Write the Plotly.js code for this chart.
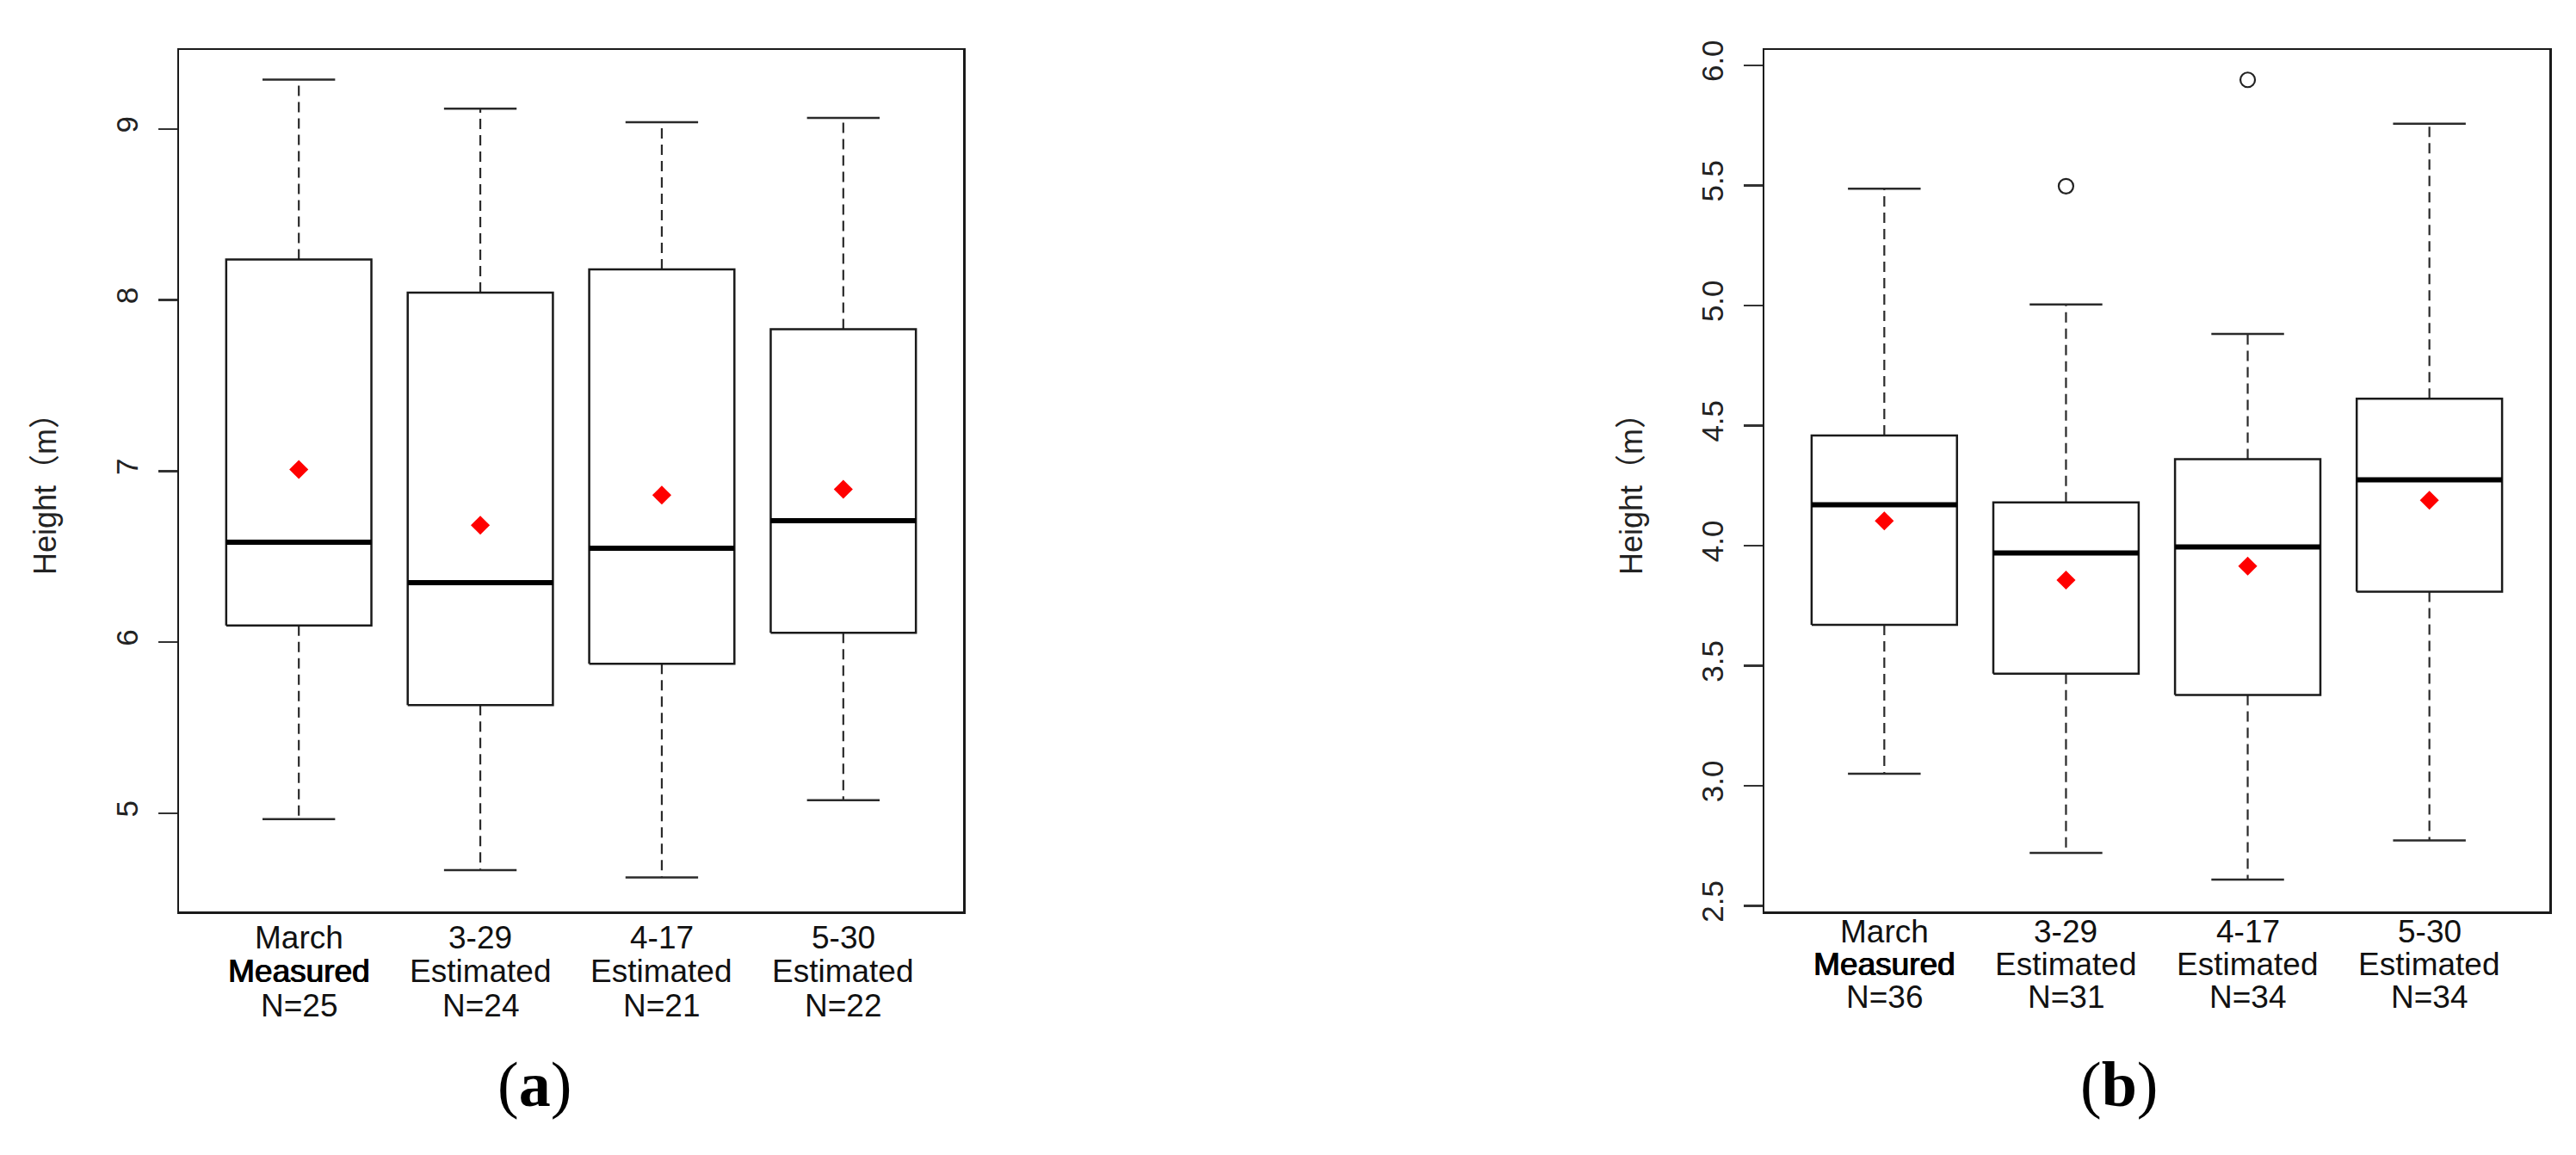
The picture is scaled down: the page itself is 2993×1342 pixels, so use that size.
<!DOCTYPE html>
<html>
<head>
<meta charset="utf-8">
<script src="https://cdn.plot.ly/plotly-3.0.1.min.js"></script>
<style>html,body{margin:0;padding:0;background:#fff;}#chart{width:2993px;height:1342px;}</style>
</head>
<body>
<div id="chart"></div>
<script>
// ---- Data ----
var groupLine1 = ['March', '3-29', '4-17', '5-30'];
var groupLine2 = ['Measured', 'Estimated', 'Estimated', 'Estimated'];
var countsA = ['N=25', 'N=24', 'N=21', 'N=22'];
var countsB = ['N=36', 'N=31', 'N=34', 'N=34'];

// Panel (a)
var lowerA  = [4.966, 4.668, 4.625, 5.077];
var q1A     = [6.098, 5.633, 5.874, 6.055];
var medianA = [6.585, 6.348, 6.550, 6.710];
var q3A     = [8.238, 8.044, 8.180, 7.830];
var upperA  = [9.290, 9.120, 9.040, 9.065];
var meanA   = [7.010, 6.684, 6.860, 6.894];
var outXA = [];
var outYA = [];

// Panel (b)
var lowerB  = [3.050, 2.721, 2.610, 2.773];
var q1B     = [3.670, 3.467, 3.378, 3.808];
var medianB = [4.170, 3.970, 3.995, 4.274];
var q3B     = [4.459, 4.180, 4.360, 4.612];
var upperB  = [5.487, 5.005, 4.882, 5.757];
var meanB   = [4.103, 3.857, 3.915, 4.189];
var outXB = [2, 3];
var outYB = [5.497, 5.940];

var yTicksA = [5, 6, 7, 8, 9];
var yTicksB = [2.5, 3.0, 3.5, 4.0, 4.5, 5.0, 5.5, 6.0];

// ---- Style ----
var W = 2993, H = 1342;
var halfBox = 0.4, halfCap = 0.2;
var lineCol = '#1a1a1a';
var sansFont = 'Liberation Sans, Arial, Noto Sans CJK SC, sans-serif';

function panelTraces(xa, ya, lower, q1, med, q3, upper, mean, outX, outY) {
  var bx = [], by = [], mx = [], my = [], wx = [], wy = [], cx = [], cy = [];
  for (var i = 0; i < q1.length; i++) {
    var c = i + 1;
    bx.push(c - halfBox, c + halfBox, c + halfBox, c - halfBox, c - halfBox, null);
    by.push(q1[i], q1[i], q3[i], q3[i], q1[i], null);
    mx.push(c - halfBox, c + halfBox, null);
    my.push(med[i], med[i], null);
    wx.push(c, c, null, c, c, null);
    wy.push(q3[i], upper[i], null, q1[i], lower[i], null);
    cx.push(c - halfCap, c + halfCap, null, c - halfCap, c + halfCap, null);
    cy.push(upper[i], upper[i], null, lower[i], lower[i], null);
  }
  var xs = [1, 2, 3, 4];
  return [
    {x: wx, y: wy, xaxis: xa, yaxis: ya, mode: 'lines', type: 'scatter',
     line: {color: '#2a2a2a', width: 2.2, dash: '12px,7px'}, hoverinfo: 'skip'},
    {x: cx, y: cy, xaxis: xa, yaxis: ya, mode: 'lines', type: 'scatter',
     line: {color: '#2a2a2a', width: 2.5}, hoverinfo: 'skip'},
    {x: bx, y: by, xaxis: xa, yaxis: ya, mode: 'lines', type: 'scatter',
     line: {color: lineCol, width: 2.5}, hoverinfo: 'skip'},
    {x: mx, y: my, xaxis: xa, yaxis: ya, mode: 'lines', type: 'scatter',
     line: {color: '#000', width: 6}, hoverinfo: 'skip'},
    {x: xs, y: mean, xaxis: xa, yaxis: ya, mode: 'markers', type: 'scatter',
     marker: {symbol: 'diamond', size: 17, color: '#ff0000', line: {width: 0}}},
    {x: outX, y: outY, xaxis: xa, yaxis: ya, mode: 'markers', type: 'scatter',
     marker: {symbol: 'circle-open', size: 17, color: '#222', line: {width: 2.2, color: '#222'}}}
  ];
}

var data = panelTraces('x', 'y', lowerA, q1A, medianA, q3A, upperA, meanA, outXA, outYA)
  .concat(panelTraces('x2', 'y2', lowerB, q1B, medianB, q3B, upperB, meanB, outXB, outYB));

function px2x(p) { return p / W; }
function px2y(p) { return 1 - p / H; }

var frameA = {left: 208, right: 1119, top: 58, bottom: 1059};
var frameB = {left: 2050, right: 2962, top: 58, bottom: 1059};

function xAxis(fr, anchor) {
  return {domain: [px2x(fr.left), px2x(fr.right)], range: [0.34, 4.66], anchor: anchor,
    showline: true, mirror: true, linecolor: lineCol, linewidth: 2.5,
    showgrid: false, zeroline: false, ticks: '', showticklabels: false, fixedrange: true};
}
function yAxis(fr, range, ticks, fmt, anchor) {
  return {domain: [px2y(fr.bottom), px2y(fr.top)], range: range, anchor: anchor,
    showline: true, mirror: true, linecolor: lineCol, linewidth: 2.5,
    showgrid: false, zeroline: false, ticks: 'outside', ticklen: 22, tickwidth: 2.5,
    tickcolor: '#333', tickvals: ticks, tickformat: fmt, tickangle: -90,
    ticklabelstandoff: 10,
    tickfont: {family: sansFont, size: 35, color: '#222'}, fixedrange: true};
}

var annotations = [];
function addLabels(xref, line1, line2, counts, ys) {
  for (var i = 0; i < line1.length; i++) {
    var rows = [line1[i], line2[i], counts[i]];
    for (var r = 0; r < 3; r++) {
      var f = {family: sansFont, size: 37, color: '#111'};
      if (r === 1 && rows[r] === 'Measured') {
        f.color = '#000';
        f.shadow = '0.8px 0 0 #000, -0.4px 0 0 #000';
      }
      annotations.push({xref: xref, yref: 'paper', x: i + 1, y: px2y(ys[r]),
        xanchor: 'center', yanchor: 'middle', showarrow: false, text: rows[r], font: f});
    }
  }
}
addLabels('x', groupLine1, groupLine2, countsA, [1089, 1128, 1168]);
addLabels('x2', groupLine1, groupLine2, countsB, [1082, 1120, 1158]);

var yTitle = 'Height（m）';
[52, 1895].forEach(function (px) {
  annotations.push({xref: 'paper', yref: 'paper', x: px2x(px), y: px2y(565),
    xanchor: 'center', yanchor: 'middle', showarrow: false, textangle: -90,
    text: yTitle, font: {family: sansFont, size: 36, color: '#222'}});
});
[['a', 621], ['b', 2462]].forEach(function (p) {
  annotations.push({xref: 'paper', yref: 'paper', x: px2x(p[1]), y: px2y(1260),
    xanchor: 'center', yanchor: 'middle', showarrow: false,
    text: '(<b>' + p[0] + '</b>)', font: {family: 'Liberation Serif, Times New Roman, serif', size: 74, color: '#000'}});
});

var layout = {
  width: W, height: H, margin: {l: 0, r: 0, t: 0, b: 0, pad: 0},
  paper_bgcolor: '#fff', plot_bgcolor: '#fff', showlegend: false,
  xaxis: xAxis(frameA, 'y'), yaxis: yAxis(frameA, [4.426, 9.463], yTicksA, 'd', 'x'),
  xaxis2: xAxis(frameB, 'y2'), yaxis2: yAxis(frameB, [2.477, 6.0645], yTicksB, '.1f', 'x2'),
  annotations: annotations
};

Plotly.newPlot('chart', data, layout, {staticPlot: true, displayModeBar: false});
</script>
</body>
</html>
